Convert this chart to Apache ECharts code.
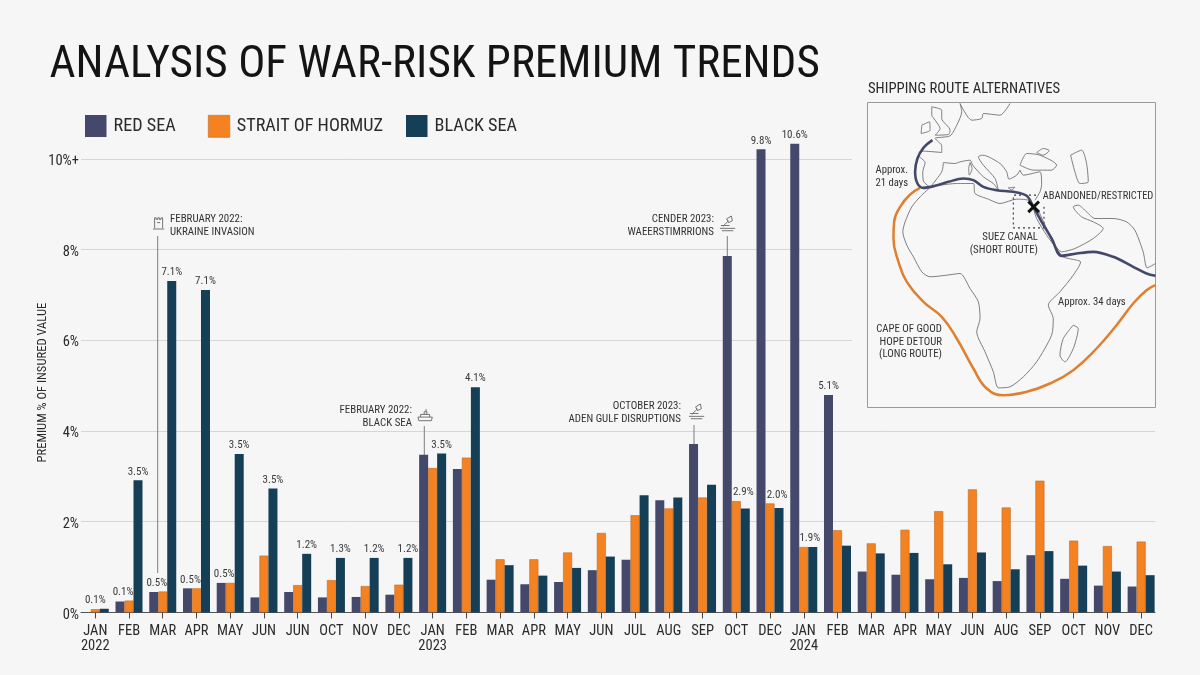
<!DOCTYPE html>
<html><head><meta charset="utf-8">
<script src="https://cdn.jsdelivr.net/npm/echarts@6/dist/echarts.min.js"></script>
<style>html,body{margin:0;padding:0;background:#f6f6f6}#c{width:1200px;height:675px}</style>
</head><body><div id="c"></div>
<script>
const categories = ['JAN\n2022','FEB','MAR','APR','MAY','JUN','JUN','OCT','NOV','DEC',
  'JAN\n2023','FEB','MAR','APR','MAY','JUN','JUL','AUG','SEP','OCT','DEC',
  'JAN\n2024','FEB','MAR','APR','MAY','JUN','AUG','SEP','OCT','NOV','DEC'];
const redSea = [0,.24,.45,.53,.65,.33,.45,.33,.34,.39,
  3.47,3.16,.72,.62,.67,.93,1.16,2.47,3.71,7.85,10.2,
  10.32,4.79,.9,.83,.73,.76,.69,1.26,.74,.59,.57];
const hormuz = [.07,.26,.46,.53,.65,1.25,.6,.71,.58,.61,
  3.18,3.41,1.17,1.17,1.32,1.75,2.14,2.29,2.53,2.45,2.4,
  1.44,1.81,1.52,1.82,2.23,2.71,2.31,2.9,1.58,1.46,1.56];
const blackSea = [.08,2.91,7.3,7.1,3.49,2.73,1.29,1.2,1.2,1.2,
  3.5,4.96,1.04,.81,.98,1.23,2.58,2.53,2.81,2.29,2.3,
  1.44,1.47,1.3,1.31,1.06,1.32,.95,1.35,1.03,.9,.82];
const redLabels = {20:'9.8%',21:'10.6%',22:'5.1%'};
const hormuzLabels = {0:'0.1%',1:'0.1%',2:'0.5%',3:'0.5%',4:'0.5%',19:'2.9%',20:'2.0%',21:'1.9%'};
const blackLabels = {1:'3.5%',2:'7.1%',3:'7.1%',4:'3.5%',5:'3.5%',6:'1.2%',7:'1.3%',8:'1.2%',9:'1.2%',10:'3.5%',11:'4.1%'};
const hormuzLabelShift = {0:0,1:-6,2:-6,3:-6,4:-6,19:7,20:7,21:6};
const yTicks = ['0%','2%','4%','6%','8%','10%+'];

// Inset map outlines, in the inset's own map units
const africa = [[212,335],[180,365],[155,395],[135,440],[128,470],[140,510],[160,545],[185,590],[210,605],[260,600],[300,595],[330,640],[355,680],[360,730],[350,770],[375,830],[400,890],[415,938],[450,935],[490,905],[530,860],[575,780],[580,730],[565,690],[600,650],[640,600],[662,560],[650,555],[610,545],[590,520],[560,480],[530,430],[510,378],[470,372],[420,385],[385,372],[345,355],[340,325],[290,325],[240,330],[212,335]];
const arabiaAsia = [[525,375],[540,350],[545,328],[540,290],[490,300],[480,285]];
const arabiaCoast = [[535,405],[565,470],[605,530],[645,520],[700,490],[730,460],[700,440],[665,425],[640,395],[655,390],[680,410],[705,430],[760,430],[800,440],[825,465],[850,530],[862,578],[887,565]];
const atlanticEurope = [[212,338],[190,318],[188,290],[195,262],[175,240],[190,228],[245,232],[245,212],[225,190],[270,182],[290,150],[305,110],[300,85]];
const iberiaEast = [[250,262],[245,290],[215,330]];
const medEurope = [[250,262],[285,265],[300,260],[330,255],[338,270],[370,305],[400,325],[415,345],[405,310],[370,270],[355,245],[368,240],[420,265],[440,290],[447,312],[470,300],[480,285]];
const baltic = [[300,85],[335,135],[365,130],[370,115],[420,120],[450,85]];
const britain = [[215,95],[245,105],[245,130],[270,165],[265,178],[225,180],[240,160],[225,135],[215,120],[215,95]];
const ireland = [[185,150],[208,140],[210,165],[183,175],[185,150]];
const blackSeaCoast = [[480,270],[500,235],[540,240],[590,270],[575,285],[520,285],[480,270]];
const crimea = [[530,232],[550,220],[568,226],[550,240],[530,232]];
const caspian = [[632,240],[665,225],[680,265],[685,320],[660,325],[645,290],[632,240]];
const madagascar = [[640,750],[655,760],[640,820],[615,860],[600,840],[610,790],[640,750]];
const corsica = [[330,262],[336,280],[328,300],[326,280],[330,262]];
const cyprus = [[445,338],[465,336],[455,344],[445,338]];
const suezBox = [[552,395],[552,458],[460,458],[460,360],[535,360]];
const shortRoute = [[217,195],[190,218],[172,250],[165,290],[172,325],[190,338],[225,332],[265,320],[310,310],[340,315],[370,335],[410,345],[460,350],[500,362],[520,395],[545,440],[575,490],[605,542],[650,535],[700,530],[760,545],[820,575],[860,595],[887,602]];
const longRoute = [[180,338],[150,358],[120,395],[102,440],[100,490],[115,560],[140,620],[190,680],[245,725],[290,790],[340,880],[380,940],[430,960],[500,950],[570,925],[640,885],[710,820],[770,750],[820,685],[860,645],[887,630]];
const crossA = [[505,379],[537,411]];
const crossB = [[537,379],[505,411]];

const FONT = 'Roboto,sans-serif';
const NARROW = 'condensed';
const INK = '#2b2b2b';
const BG = '#f6f6f6';
const NAVY = '#44496b', ORANGE = '#f58220', TEAL = '#143f57';

function items(values, labels, shifts){
  return values.map((v,i)=>{
    if(labels[i]===undefined) return v;
    return {value:v,label:{show:true,position:'top',distance:3,formatter:labels[i],fontFamily:FONT,fontStyle:NARROW,fontSize:11,color:'#3a3a3a',
      offset:[(shifts&&shifts[i])||0,0]}};
  });
}
function bar(name,values,labels,color,border,shifts){
  return {name,type:'bar',xAxisIndex:0,yAxisIndex:0,data:items(values,labels,shifts),barWidth:9,barGap:'0%',
    itemStyle:{color,borderColor:border,borderWidth:border?.6:0},z:3};
}
function mapLine(data,color,width,opts){
  return Object.assign({type:'line',xAxisIndex:2,yAxisIndex:2,data,symbol:'none',silent:true,
    lineStyle:{color,width},smooth:.25,z:3},opts||{});
}
function legend(name,left){
  return {data:[name],left,top:115,itemWidth:21.5,itemHeight:22,padding:0,selectedMode:false,icon:'rect',
    itemStyle:{borderWidth:.6},
    textStyle:{fontFamily:FONT,fontStyle:NARROW,fontSize:18.2,color:INK,padding:[1,0,0,2]}};
}
function text(x,y,t,o){
  return {type:'text',x,y,silent:true,z:10,style:Object.assign({text:t,fontFamily:FONT,fontStyle:NARROW,fontSize:10.9,fill:'#333',verticalAlign:'middle',lineHeight:12.6},o||{})};
}
function rule(x1,y1,x2,y2){
  return {type:'line',silent:true,z:2,shape:{x1,y1,x2,y2},style:{stroke:'#7d7d7d',lineWidth:1}};
}
function icon(strokes,x,y,s){
  return {type:'group',x,y,scaleX:s,scaleY:s,silent:true,z:10,children:strokes.map(points=>({type:'polyline',silent:true,z:10,shape:{points},style:{fill:null,stroke:'#666',lineWidth:.9/s}}))};
}
const tower=[[[2,14],[2,1],[4,1],[4,3],[6,3],[6,1],[8,1],[8,3],[10,3],[10,1],[12,1],[12,14]],[[0,15],[14,15]],[[5,7],[9,7]]];
const ship=[[[1,9],[17,9],[16,13],[2,13],[1,9]],[[4,9],[4,6],[14,6],[14,9]],[[8,6],[8,3],[11,3],[11,6]],[[10,3],[10,0]]];
const spade=[[[0,13],[16,13]],[[2,15.5],[14,15.5]],[[3,11],[9,5]],[[7,3],[12,0],[13,5],[9,7],[7,3]],[[1,10],[10,10]]];

const option = {
  backgroundColor:BG,animation:false,
  grid:[
    {left:78.4,width:1079.6,top:113,height:499.4},
    {left:81,width:1074,top:158.8,height:453.6},
    {left:867.5,top:102.5,width:288,height:305,show:true,borderColor:'#9a9a9a',borderWidth:1,backgroundColor:'#f7f7f7',z:1}
  ],
  legend:[legend('RED SEA',85),legend('STRAIT OF HORMUZ',208),legend('BLACK SEA',406)],
  title:{text:'ANALYSIS OF WAR-RISK PREMIUM TRENDS',left:44.5,top:38,textStyle:{fontFamily:FONT,fontStyle:NARROW,fontSize:45.2,fontWeight:'normal',color:'#141414'}},
  xAxis:[
    {type:'category',gridIndex:0,data:categories,axisLine:{show:false},
      axisTick:{show:true,alignWithLabel:true,length:6,lineStyle:{color:'#444'}},
      axisLabel:{interval:0,fontFamily:FONT,fontStyle:NARROW,fontSize:14.5,color:INK,margin:11,lineHeight:15.5}},
    {type:'category',gridIndex:1,data:[],axisTick:{show:false},axisLabel:{show:false},axisLine:{lineStyle:{color:'#555',width:1.2}}},
    {type:'value',gridIndex:2,min:22,max:887,show:false}
  ],
  yAxis:[
    {type:'value',gridIndex:0,min:0,max:11,show:false},
    {type:'value',gridIndex:1,min:0,max:10,interval:2,axisLine:{show:false},axisTick:{show:false},
      axisLabel:{margin:2,formatter:(v)=>'{t|'+yTicks[v/2]+'}',
        rich:{t:{fontFamily:FONT,fontStyle:NARROW,fontSize:14.5,color:INK,padding:[5,0,0,0]}}},
      splitLine:{lineStyle:{color:'#d6d6d6',width:1}},
      name:'PREMIUM % OF INSURED VALUE',nameLocation:'middle',nameGap:32,nameRotate:90,nameMoveOverlap:false,
      nameTextStyle:{fontFamily:FONT,fontStyle:NARROW,fontSize:12.6,color:INK,padding:[0,0,0,6]}},
    {type:'value',gridIndex:2,min:82,max:997,inverse:true,show:false}
  ],
  series:[
    bar('RED SEA',redSea,redLabels,NAVY,null),
    bar('STRAIT OF HORMUZ',hormuz,hormuzLabels,ORANGE,'#b96a2a',hormuzLabelShift),
    bar('BLACK SEA',blackSea,blackLabels,TEAL,null),
    ...[africa,arabiaAsia,arabiaCoast,atlanticEurope,iberiaEast,medEurope,baltic,britain,ireland,blackSeaCoast,crimea,caspian,madagascar,corsica,cyprus]
      .map(d=>mapLine(d,'#707070',.9)),
    mapLine(suezBox,'#333',1.1,{smooth:false,lineStyle:{color:'#333',width:1.1,type:[2,3]}}),
    mapLine(longRoute,'#e07f2d',2.5,{smooth:.45}),
    mapLine(shortRoute,NAVY,2.6,{smooth:.35}),
    mapLine(crossA,'#111',3,{smooth:false}),
    mapLine(crossB,'#111',3,{smooth:false})
  ],
  graphic:[
    {type:'rect',silent:true,z:1,shape:{x:852,y:150,width:15,height:257},style:{fill:BG}},
    rule(157.7,236,157.7,573),rule(424.3,426,424.3,455),rule(694,425,694,444),rule(727.3,236,727.3,256),
    icon(tower,153,217,.8),icon(ship,417,409,.9),icon(spade,689,404,.95),icon(spade,720,216,.95),
    text(170,225.5,'FEBRUARY 2022:\nUKRAINE INVASION'),
    text(412,417,'FEBRUARY 2022:\nBLACK SEA',{align:'right'}),
    text(681,413,'OCTOBER 2023:\nADEN GULF DISRUPTIONS',{align:'right'}),
    text(714,225.5,'CENDER 2023:\nWAEERSTIMRRIONS',{align:'right'}),
    text(868,89,'SHIPPING ROUTE ALTERNATIVES',{fontSize:14.7,fill:INK}),
    text(875.5,177,'Approx.\n21 days',{fontSize:10.7}),
    text(1042.7,196,'ABANDONED/RESTRICTED',{fontSize:10.5}),
    text(1038,244,'SUEZ CANAL\n(SHORT ROUTE)',{fontSize:10.8,align:'right'}),
    text(1058,302,'Approx. 34 days',{fontSize:10.7}),
    text(942,342,'CAPE OF GOOD\nHOPE DETOUR\n(LONG ROUTE)',{align:'right',fontSize:10.8})
  ]
};
const chart = echarts.init(document.getElementById('c'),null,{renderer:'canvas'});
chart.setOption(option);
</script></body></html>
